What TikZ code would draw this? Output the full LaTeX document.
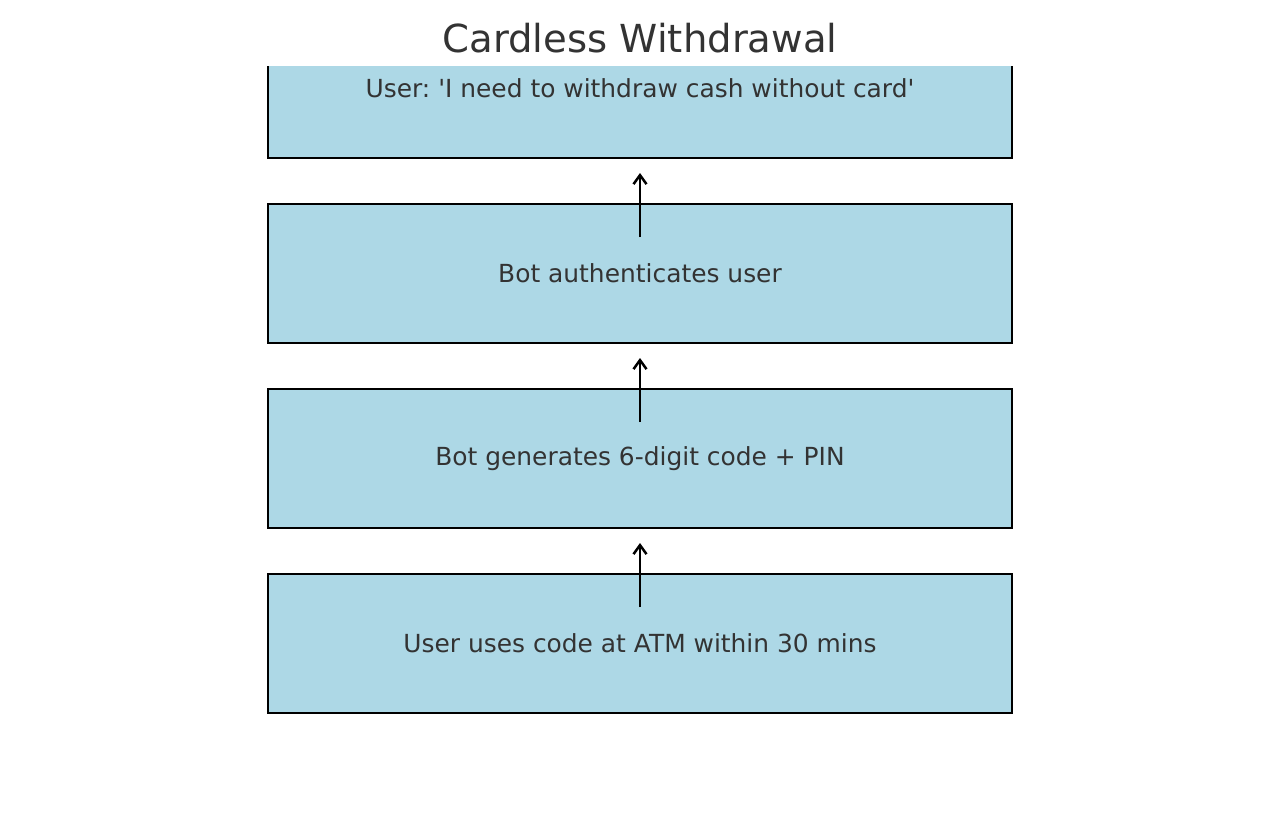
\documentclass[tikz,border=0pt]{standalone}
\usepackage{fontspec}
\setmainfont{DejaVu Sans}
\usepackage{tikz}
\usetikzlibrary{arrows.meta,positioning}
\definecolor{boxblue}{RGB}{173, 216, 230}
\definecolor{inkgray}{RGB}{51, 51, 51}
\tikzstyle{stepbox} = [rectangle, draw=black, line width=2.5pt, fill=boxblue, text=inkgray, text centered, font=\fontsize{24.9}{30}\selectfont, minimum width=744pt, minimum height=139pt, inner sep=0pt, outer sep=0pt]
\tikzstyle{textonly} = [draw=none, fill=none, text=inkgray, text centered, font=\fontsize{38.6}{46}\selectfont]
\tikzstyle{tedge}  = [draw, line width=2.5pt, -{Straight Barb[length=9pt, width=13pt]}]

\begin{document}
\frenchspacing
\begin{tikzpicture}[x=1pt, y=-1pt]
\useasboundingbox (0,0) rectangle (1280,825);

% title =============================
\node[textonly] (title) at (640,38) {Cardless Withdrawal};

% boxes =============================
\begin{scope}
\clip (0,66) rectangle (1280,825);
\node[stepbox] (ask) at (640,88.5) {User: \textquotesingle I need to withdraw cash without card\textquotesingle};
\end{scope}
\node[stepbox, below=46pt of ask] (auth) {Bot authenticates user};
\node[stepbox, below=46pt of auth] (code) {Bot generates 6-digit code + PIN};
\node[stepbox, below=46pt of code] (atm) {User uses code at ATM within 30 mins};

% edges
\coordinate (authin) at ([yshift=-33pt]auth.north);
\coordinate (authout) at ([yshift=31pt]auth.north);
\coordinate (codein) at ([yshift=-33pt]code.north);
\coordinate (codeout) at ([yshift=31pt]code.north);
\coordinate (atmin) at ([yshift=-33pt]atm.north);
\coordinate (atmout) at ([yshift=31pt]atm.north);
\path[tedge] (authin) -- (authout);
\path[tedge] (codein) -- (codeout);
\path[tedge] (atmin) -- (atmout);

\end{tikzpicture}
\end{document}
